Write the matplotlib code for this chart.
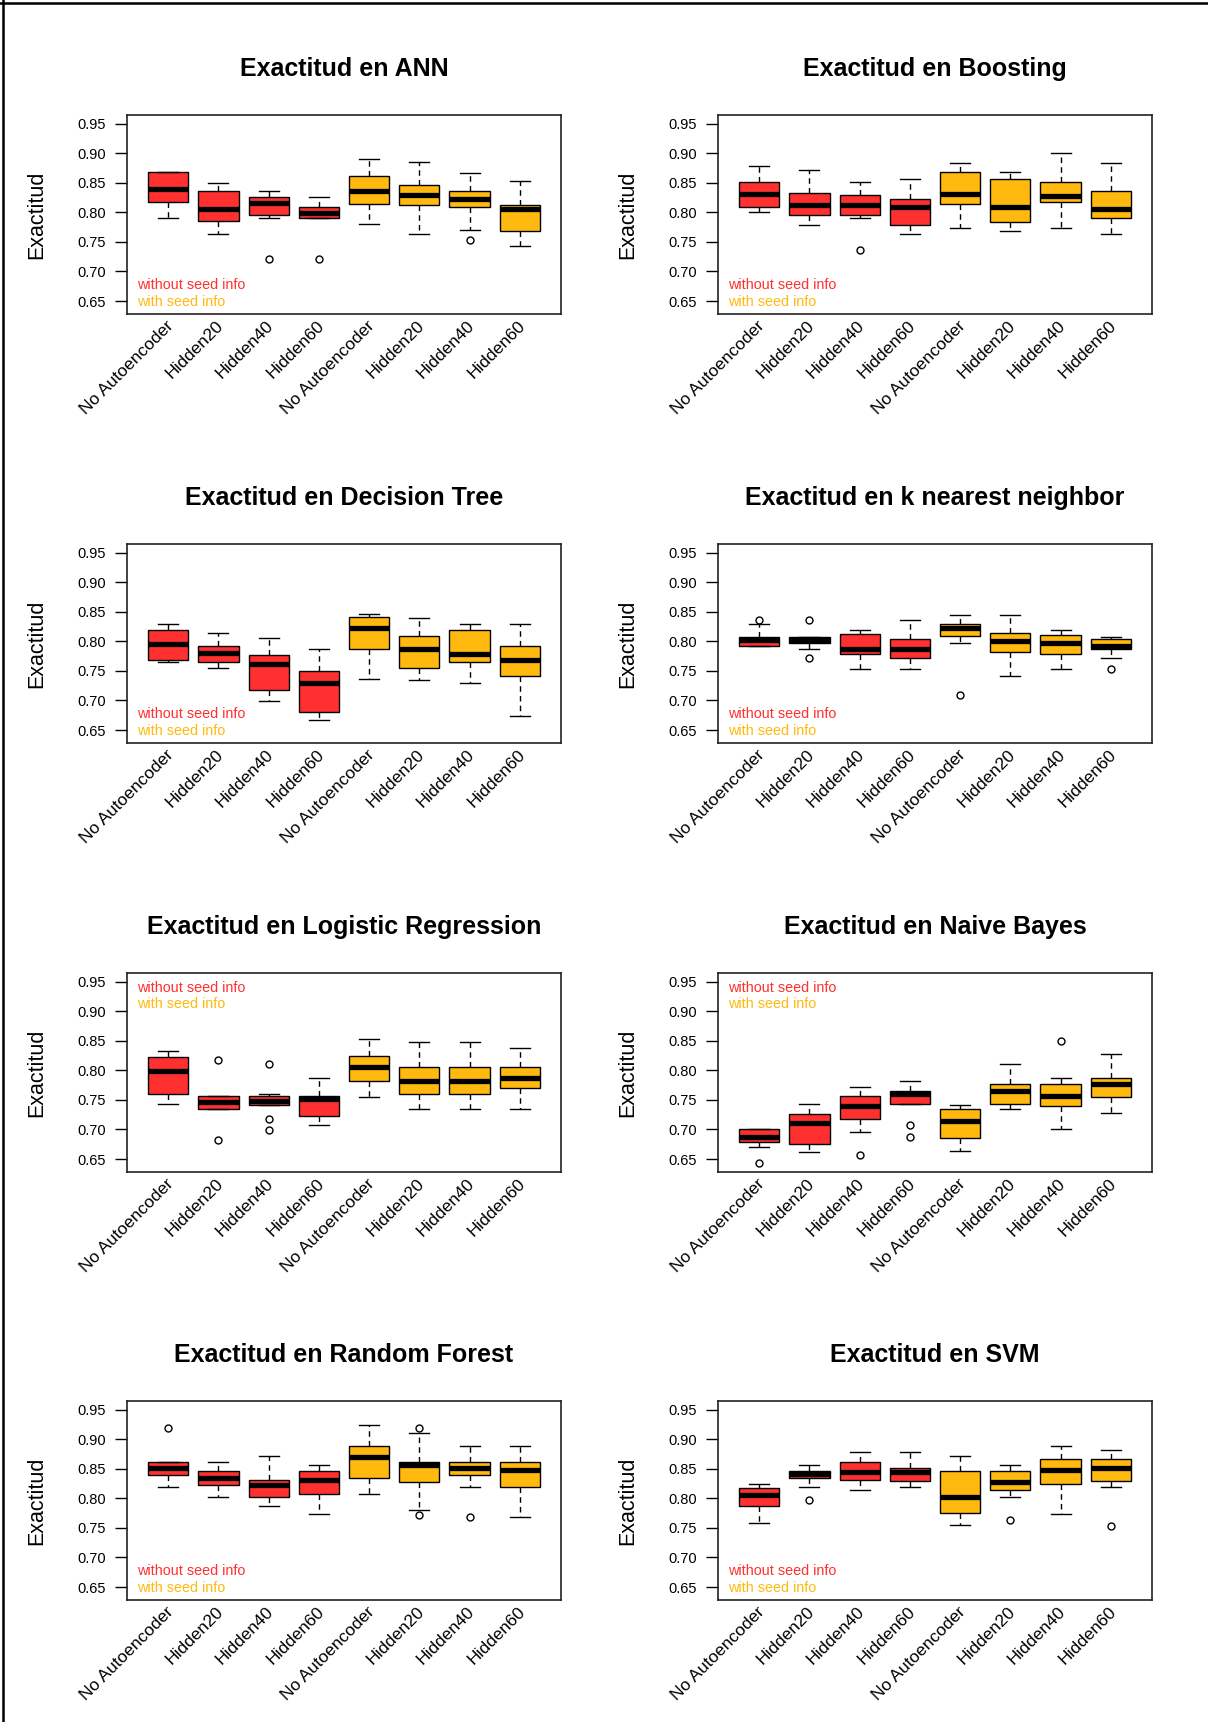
import matplotlib
matplotlib.use('Agg')
import matplotlib.pyplot as plt
from matplotlib.lines import Line2D

plt.rcParams['font.family'] = ['Liberation Sans', 'DejaVu Sans']

'''Box statistics read from the picture: (whisker low, Q1, median, Q3, whisker high)'''
LABELS = ['No Autoencoder', 'Hidden20', 'Hidden40', 'Hidden60',
          'No Autoencoder', 'Hidden20', 'Hidden40', 'Hidden60']
RED = '#FF3030'
GOLD = '#FFB90F'
BOX_COLORS = [RED] * 4 + [GOLD] * 4

ann_stats = [(0.791, 0.818, 0.839, 0.868, 0.868), (0.764, 0.785, 0.805, 0.837, 0.850),
             (0.791, 0.796, 0.816, 0.826, 0.837), (0.791, 0.791, 0.799, 0.810, 0.826),
             (0.780, 0.815, 0.837, 0.861, 0.890), (0.764, 0.812, 0.830, 0.847, 0.885),
             (0.770, 0.810, 0.822, 0.837, 0.866), (0.743, 0.769, 0.805, 0.812, 0.853)]
ann_fliers = [[], [], [0.721], [0.721], [], [], [0.753], []]

boost_stats = [(0.801, 0.809, 0.831, 0.852, 0.878), (0.779, 0.795, 0.812, 0.833, 0.872),
               (0.790, 0.795, 0.812, 0.830, 0.852), (0.763, 0.779, 0.809, 0.822, 0.857),
               (0.774, 0.814, 0.832, 0.868, 0.884), (0.769, 0.784, 0.809, 0.857, 0.868),
               (0.774, 0.817, 0.828, 0.852, 0.900), (0.763, 0.790, 0.806, 0.836, 0.884)]
boost_fliers = [[], [], [0.737], [], [], [], [], []]

tree_stats = [(0.765, 0.769, 0.796, 0.819, 0.830), (0.755, 0.766, 0.780, 0.792, 0.814),
              (0.699, 0.718, 0.761, 0.777, 0.806), (0.667, 0.681, 0.729, 0.750, 0.788),
              (0.737, 0.788, 0.822, 0.841, 0.846), (0.734, 0.755, 0.788, 0.809, 0.840),
              (0.729, 0.765, 0.779, 0.819, 0.830), (0.673, 0.742, 0.769, 0.793, 0.830)]
tree_fliers = [[], [], [], [], [], [], [], []]

knn_stats = [(0.792, 0.792, 0.802, 0.808, 0.830), (0.788, 0.798, 0.803, 0.808, 0.808),
             (0.753, 0.779, 0.787, 0.813, 0.819), (0.753, 0.772, 0.788, 0.804, 0.836),
             (0.798, 0.809, 0.822, 0.830, 0.845), (0.742, 0.782, 0.801, 0.814, 0.845),
             (0.753, 0.779, 0.798, 0.811, 0.819), (0.772, 0.787, 0.793, 0.804, 0.808)]
knn_fliers = [[0.836], [0.836, 0.772], [], [], [0.710], [], [], [0.753]]

logit_stats = [(0.744, 0.760, 0.799, 0.822, 0.833), (0.734, 0.734, 0.746, 0.756, 0.756),
               (0.741, 0.741, 0.749, 0.756, 0.760), (0.707, 0.723, 0.751, 0.756, 0.787),
               (0.755, 0.782, 0.806, 0.824, 0.853), (0.734, 0.760, 0.782, 0.806, 0.848),
               (0.734, 0.760, 0.782, 0.806, 0.848), (0.734, 0.771, 0.788, 0.806, 0.838)]
logit_fliers = [[], [0.817, 0.683], [0.811, 0.718, 0.699], [], [], [], [], []]

bayes_stats = [(0.670, 0.678, 0.688, 0.701, 0.701), (0.662, 0.675, 0.711, 0.726, 0.744),
               (0.696, 0.717, 0.739, 0.756, 0.772), (0.744, 0.744, 0.760, 0.766, 0.782),
               (0.664, 0.686, 0.715, 0.734, 0.742), (0.734, 0.744, 0.766, 0.777, 0.811),
               (0.701, 0.739, 0.757, 0.777, 0.787), (0.728, 0.755, 0.777, 0.787, 0.827)]
bayes_fliers = [[0.643], [], [0.657], [0.708, 0.688], [], [], [0.849], []]

forest_stats = [(0.819, 0.840, 0.852, 0.862, 0.862), (0.803, 0.822, 0.835, 0.846, 0.862),
                (0.787, 0.803, 0.823, 0.832, 0.872), (0.774, 0.808, 0.831, 0.846, 0.856),
                (0.808, 0.835, 0.870, 0.888, 0.925), (0.780, 0.827, 0.856, 0.862, 0.910),
                (0.819, 0.840, 0.851, 0.862, 0.888), (0.769, 0.819, 0.848, 0.862, 0.888)]
forest_fliers = [[0.920], [], [], [], [], [0.920, 0.772], [0.769], []]

svm_stats = [(0.758, 0.787, 0.806, 0.817, 0.824), (0.819, 0.835, 0.841, 0.846, 0.856),
             (0.814, 0.832, 0.845, 0.861, 0.878), (0.819, 0.829, 0.845, 0.851, 0.878),
             (0.755, 0.776, 0.803, 0.846, 0.872), (0.803, 0.814, 0.828, 0.846, 0.856),
             (0.774, 0.824, 0.848, 0.866, 0.888), (0.819, 0.829, 0.851, 0.866, 0.882)]
svm_fliers = [[], [0.798], [], [], [], [0.763], [], [0.753]]

PANELS = [('Exactitud en ANN', ann_stats, ann_fliers, 'bottom'),
          ('Exactitud en Boosting', boost_stats, boost_fliers, 'bottom'),
          ('Exactitud en Decision Tree', tree_stats, tree_fliers, 'bottom'),
          ('Exactitud en k nearest neighbor', knn_stats, knn_fliers, 'bottom'),
          ('Exactitud en Logistic Regression', logit_stats, logit_fliers, 'top'),
          ('Exactitud en Naive Bayes', bayes_stats, bayes_fliers, 'top'),
          ('Exactitud en Random Forest', forest_stats, forest_fliers, 'bottom'),
          ('Exactitud en SVM', svm_stats, svm_fliers, 'bottom')]

W, H = 1208, 1722
COL_X = [127, 718]
ROW_Y = [115, 544, 973, 1401]
AX_W, AX_H = 434, 199


def draw_panel(ax, title, stats, fliers, legend_pos):
    '''One R-style boxplot panel'''
    bxp_stats = []
    for (lo, q1, med, q3, hi), fl in zip(stats, fliers):
        bxp_stats.append({'whislo': lo, 'q1': q1, 'med': med, 'q3': q3,
                          'whishi': hi, 'fliers': fl})
    positions = list(range(1, len(stats) + 1))
    parts = ax.bxp(bxp_stats, positions=positions, widths=0.8, capwidths=0.4,
                   patch_artist=True, showfliers=True,
                   boxprops={'edgecolor': 'black', 'linewidth': 1.0},
                   medianprops={'color': 'black', 'linewidth': 3.8, 'solid_capstyle': 'butt'},
                   whiskerprops={'color': 'black', 'linewidth': 1.0, 'linestyle': (0, (4, 3))},
                   capprops={'color': 'black', 'linewidth': 1.0},
                   flierprops={'marker': 'o', 'markerfacecolor': 'none',
                               'markeredgecolor': 'black', 'markersize': 5,
                               'markeredgewidth': 1.0})
    for box, color in zip(parts['boxes'], BOX_COLORS):
        box.set_facecolor(color)

    ax.set_xlim(0.18, 8.82)
    ax.set_ylim(0.628, 0.965)
    ax.set_yticks([0.65, 0.70, 0.75, 0.80, 0.85, 0.90, 0.95])
    ax.set_yticklabels(['0.65', '0.70', '0.75', '0.80', '0.85', '0.90', '0.95'])
    ax.tick_params(axis='y', labelsize=10.5, length=9, width=1.0, pad=6)
    ax.set_xticks([])
    for sp in ax.spines.values():
        sp.set_linewidth(1.2)
        sp.set_color('#222222')

    ax.set_title(title, fontsize=18, fontweight='bold', pad=28)
    ax.set_ylabel('Exactitud', fontsize=15.5, labelpad=22)

    for pos, lab in zip(positions, LABELS):
        ax.annotate(lab, xy=(pos, 0), xycoords=('data', 'axes fraction'),
                    xytext=(2, -7), textcoords='offset points',
                    rotation=45, ha='right', va='center', rotation_mode='anchor',
                    fontsize=12.5)

    if legend_pos == 'bottom':
        y1, y2 = 0.148, 0.058
    else:
        y1, y2 = 0.925, 0.845
    ax.text(0.024, y1, 'without seed info', color=RED, fontsize=10.4,
            transform=ax.transAxes, va='center')
    ax.text(0.024, y2, 'with seed info', color=GOLD, fontsize=10.4,
            transform=ax.transAxes, va='center')


fig = plt.figure(figsize=(W / 100, H / 100), dpi=100)
for i, (title, stats, fliers, legend_pos) in enumerate(PANELS):
    x0 = COL_X[i % 2]
    y0 = ROW_Y[i // 2]
    ax = fig.add_axes([x0 / W, 1 - (y0 + AX_H) / H, AX_W / W, AX_H / H])
    draw_panel(ax, title, stats, fliers, legend_pos)

# thin frame on the top and left edge, as in the exported picture
fig.add_artist(Line2D([0, 1], [1 - 3 / H, 1 - 3 / H], color='black', linewidth=1.8))
fig.add_artist(Line2D([3 / W, 3 / W], [0, 1], color='black', linewidth=1.8))

fig.savefig('out.png', dpi=100)
